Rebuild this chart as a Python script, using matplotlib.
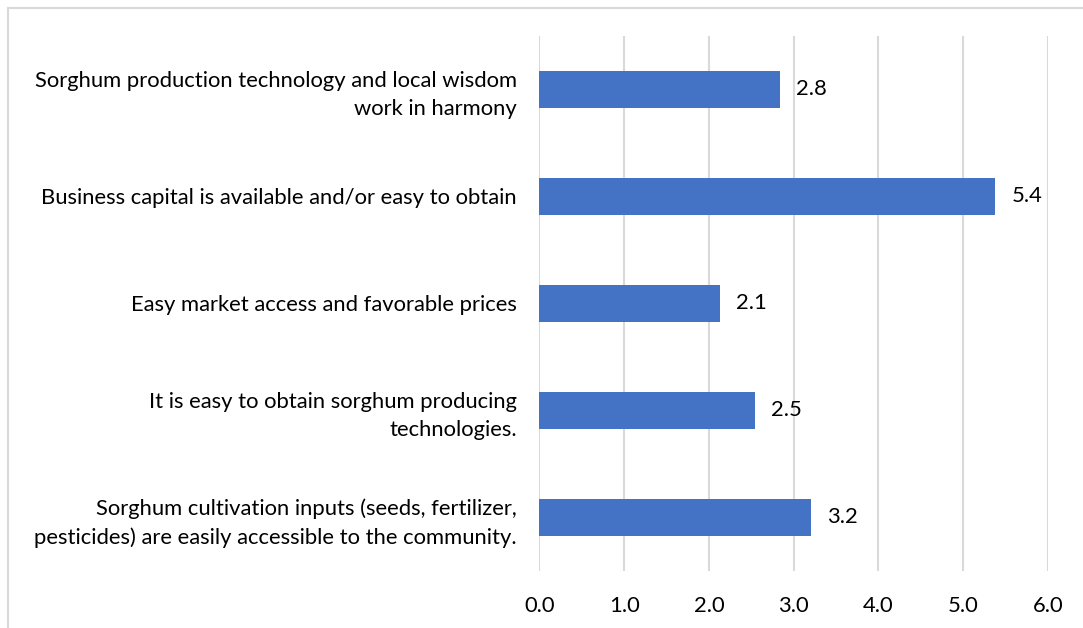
import matplotlib
matplotlib.use("Agg")
import matplotlib.pyplot as plt
from matplotlib.patches import Rectangle

categories = [
    "Sorghum production technology and local wisdom\nwork in harmony",
    "Business capital is available and/or easy to obtain",
    "Easy market access and favorable prices",
    "It is easy to obtain sorghum producing\ntechnologies.",
    "Sorghum cultivation inputs (seeds, fertilizer,\npesticides) are easily accessible to the community.",
]
values = [2.84, 5.38, 2.13, 2.54, 3.2]
xticks = [0, 1, 2, 3, 4, 5, 6]

plt.rcParams['font.family'] = ['Lato', 'DejaVu Sans']
fs = 15.8

fig = plt.figure(figsize=(10.83, 6.28), dpi=100)
ax = fig.add_axes([0.498, 0.0908, 0.4697, 0.852])

ypos = list(range(len(categories)))
bars = ax.barh(ypos, values, height=0.35, color="#4472C4", zorder=3)
for b, v in zip(bars, values):
    ax.text(v + 0.19, b.get_y() + b.get_height() / 2, f"{v:.1f}",
            va="center", ha="left", fontsize=fs, color="#000000")

ax.set_ylim(len(categories) - 0.5, -0.5)
ax.set_xlim(0, 6)
ax.set_yticks(ypos)
ax.set_yticklabels(categories, fontsize=fs, color="#000000", ha="right",
                   multialignment="right", linespacing=1.5)
ax.set_xticks(xticks)
ax.set_xticklabels([f"{t:.1f}" for t in xticks], fontsize=fs, color="#000000")
ax.tick_params(axis="both", length=0)
ax.tick_params(axis="y", pad=16)
ax.tick_params(axis="x", pad=18)
ax.grid(axis="x", color="#d9d9d9", linewidth=1.5, zorder=0)
for s in ax.spines.values():
    s.set_visible(False)

# chart area border (only the top and left edges show)
fig.patches.append(Rectangle((8 / 1083, -0.1), 1.2, 1.1 - 8 / 628,
                             transform=fig.transFigure, fill=False,
                             edgecolor="#d9d9d9", linewidth=1.5))

fig.savefig("out.png", dpi=100)
